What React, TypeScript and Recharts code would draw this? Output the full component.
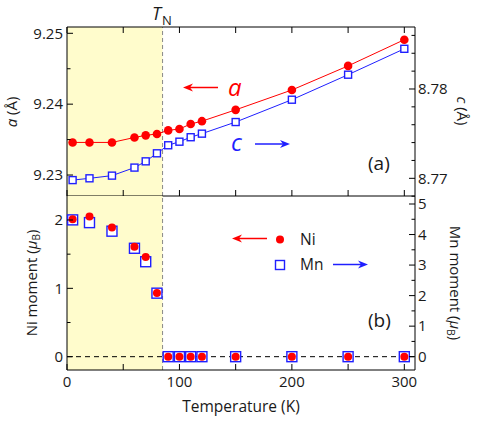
import React from "react";
import {
  ComposedChart,
  Line,
  Scatter,
  XAxis,
  YAxis,
  ReferenceArea,
  ReferenceLine,
} from "recharts";

const temps = [5, 20, 40, 60, 70, 80, 90, 100, 110, 120, 150, 200, 250, 300];
const aLattice = [
  9.2346, 9.2346, 9.2346, 9.2353, 9.2356, 9.2358, 9.2363, 9.2365, 9.2372,
  9.2376, 9.2392, 9.242, 9.2454, 9.2491,
];
const cLattice = [
  8.7698, 8.77, 8.7703, 8.7712, 8.7719, 8.7728, 8.7737, 8.7741, 8.7746, 8.775,
  8.7763, 8.7788, 8.7816, 8.7845,
];
const niMoment = [2.01, 2.05, 1.89, 1.61, 1.46, 0.93, 0, 0, 0, 0, 0, 0, 0, 0];
const mnMoment = [4.48, 4.39, 4.11, 3.55, 3.11, 2.08, 0, 0, 0, 0, 0, 0, 0, 0];
const tN = 85;

const xTicks = [0, 50, 100, 150, 200, 250, 300];
const xLabels = [0, 100, 200, 300];
const aTicks = [9.23, 9.235, 9.24, 9.245, 9.25];
const aLabels = [9.23, 9.24, 9.25];
const cTicks = [8.768, 8.77, 8.772, 8.774, 8.776, 8.778, 8.78, 8.782, 8.784, 8.786];
const cLabels = [8.77, 8.78];
const niTicks = [0, 0.5, 1, 1.5, 2];
const niLabels = [0, 1, 2];
const mnTicks = [0, 0.5, 1, 1.5, 2, 2.5, 3, 3.5, 4, 4.5, 5];
const mnLabels = [0, 1, 2, 3, 4, 5];

const table = temps.map((t, i) => ({
  t,
  a: aLattice[i],
  c: cLattice[i],
  ni: niMoment[i],
  mn: mnMoment[i],
}));

const RED = "#ff0000";
const BLUE = "#1f1fff";
const SHADE = "#fffccc";
const FONT = "'Open Sans', sans-serif";
const W = 479;
const H = 422;

const near = (list: number[], v: number) =>
  list.some((u) => Math.abs(u - v) < 1e-6);

// ticks point into the plot, labels sit outside
function makeTick(
  side: "left" | "right" | "top" | "bottom",
  labels: number[],
  fmt: (v: number) => string,
  majors?: number[]
) {
  return (props: any) => {
    const { x, y, payload } = props;
    const v = payload.value;
    const len = !majors || near(majors, v) ? 6 : 3.5;
    const show = near(labels, v);
    let line;
    let label = null;
    if (side === "left") {
      line = <line x1={x} y1={y} x2={x + len} y2={y} stroke="#000" />;
      if (show)
        label = (
          <text x={x - 4} y={y + 5.3} textAnchor="end">
            {fmt(v)}
          </text>
        );
    } else if (side === "right") {
      line = <line x1={x} y1={y} x2={x - len} y2={y} stroke="#000" />;
      if (show)
        label = (
          <text x={x + 3} y={y + 5.3} textAnchor="start">
            {fmt(v)}
          </text>
        );
    } else if (side === "bottom") {
      line = <line x1={x} y1={y} x2={x} y2={y - len} stroke="#000" />;
      if (show)
        label = (
          <text x={x} y={y + 16.5} textAnchor="middle">
            {fmt(v)}
          </text>
        );
    } else {
      line = <line x1={x} y1={y} x2={x} y2={y + len} stroke="#000" />;
    }
    return (
      <g fontFamily={FONT} fontSize={15} fill="#1a1a1a">
        {line}
        {label}
      </g>
    );
  };
}

const circleDot = (r: number) => (p: any) =>
  <circle key={`c${p.index}`} cx={p.cx} cy={p.cy} r={r} fill={RED} />;

const squareDot = (s: number) => (p: any) =>
  (
    <rect
      key={`s${p.index}`}
      x={p.cx - s / 2}
      y={p.cy - s / 2}
      width={s}
      height={s}
      fill="#fff"
      stroke={BLUE}
      strokeWidth={1.4}
    />
  );

function Arrow({ from, to, y, color }: { from: number; to: number; y: number; color: string }) {
  const dir = to > from ? 1 : -1;
  return (
    <g>
      <line x1={from} y1={y} x2={to - dir * 6} y2={y} stroke={color} strokeWidth={1.5} />
      <polygon
        points={`${to},${y} ${to - dir * 10},${y - 4} ${to - dir * 7},${y} ${to - dir * 10},${y + 4}`}
        fill={color}
      />
    </g>
  );
}

const layer: React.CSSProperties = { position: "absolute", left: 0, top: 0 };

export default function App() {
  return (
    <div style={{ position: "absolute", left: 0, top: 0, width: W, height: H, background: "#fff" }}>
      {/* (a) lattice parameters */}
      <div style={layer}>
        <ComposedChart width={W} height={H} data={table} margin={{ top: 26, right: 0, bottom: 225, left: 0 }}>
          <XAxis
            xAxisId="b"
            dataKey="t"
            type="number"
            domain={[0, 309.5]}
            ticks={xTicks}
            interval={0}
            height={1}
            tickSize={0}
            tickMargin={0}
            tickLine={false}
            stroke="#000"
            tick={makeTick("bottom", [], String)}
          />
          <XAxis
            xAxisId="t"
            orientation="top"
            dataKey="t"
            type="number"
            domain={[0, 309.5]}
            ticks={xTicks}
            interval={0}
            height={1}
            tickSize={0}
            tickMargin={0}
            tickLine={false}
            stroke="#000"
            tick={makeTick("top", [], String)}
          />
          <YAxis
            yAxisId="a"
            orientation="left"
            type="number"
            domain={[9.22704, 9.25089]}
            allowDataOverflow
            ticks={aTicks}
            interval={0}
            width={67}
            tickSize={0}
            tickMargin={0}
            tickLine={false}
            stroke="#000"
            tick={makeTick("left", aLabels, (v) => v.toFixed(2), aLabels)}
          />
          <YAxis
            yAxisId="c"
            orientation="right"
            type="number"
            domain={[8.76802, 8.78694]}
            allowDataOverflow
            ticks={cTicks}
            interval={0}
            width={64}
            tickSize={0}
            tickMargin={0}
            tickLine={false}
            stroke="#000"
            tick={makeTick("right", cLabels, (v) => v.toFixed(2), cLabels)}
          />
          <ReferenceArea xAxisId="b" yAxisId="a" x1={0} x2={tN} fill={SHADE} fillOpacity={1} stroke="none" />
          <ReferenceLine xAxisId="b" yAxisId="a" x={tN} stroke="#888" strokeDasharray="4 3" />
          <Line
            xAxisId="b"
            yAxisId="c"
            dataKey="c"
            type="linear"
            stroke={BLUE}
            strokeWidth={1}
            dot={squareDot(7)}
            isAnimationActive={false}
          />
          <Line
            xAxisId="b"
            yAxisId="a"
            dataKey="a"
            type="linear"
            stroke={RED}
            strokeWidth={1}
            dot={circleDot(4.3)}
            isAnimationActive={false}
          />
        </ComposedChart>
      </div>

      {/* (b) ordered moments */}
      <div style={layer}>
        <ComposedChart width={W} height={H} data={table} margin={{ top: 196, right: 0, bottom: 51, left: 0 }}>
          <XAxis
            xAxisId="b"
            dataKey="t"
            type="number"
            domain={[0, 309.5]}
            ticks={xTicks}
            interval={0}
            height={1}
            tickSize={0}
            tickMargin={0}
            tickLine={false}
            stroke="#000"
            tick={makeTick("bottom", xLabels, String)}
          />
          <YAxis
            yAxisId="ni"
            orientation="left"
            type="number"
            domain={[-0.195, 2.351]}
            allowDataOverflow
            ticks={niTicks}
            interval={0}
            width={67}
            tickSize={0}
            tickMargin={0}
            tickLine={false}
            stroke="#000"
            tick={makeTick("left", niLabels, String, niLabels)}
          />
          <YAxis
            yAxisId="mn"
            orientation="right"
            type="number"
            domain={[-0.436, 5.262]}
            allowDataOverflow
            ticks={mnTicks}
            interval={0}
            width={64}
            tickSize={0}
            tickMargin={0}
            tickLine={false}
            stroke="#000"
            tick={makeTick("right", mnLabels, String, mnLabels)}
          />
          <ReferenceArea xAxisId="b" yAxisId="ni" x1={0} x2={tN} fill={SHADE} fillOpacity={1} stroke="none" />
          <ReferenceLine xAxisId="b" yAxisId="ni" x={tN} stroke="#888" strokeDasharray="4 3" />
          <ReferenceLine xAxisId="b" yAxisId="ni" y={0} stroke="#000" strokeDasharray="5 4" />
          <Scatter
            xAxisId="b"
            yAxisId="mn"
            data={table}
            dataKey="mn"
            shape={squareDot(10)}
            isAnimationActive={false}
          />
          <Scatter
            xAxisId="b"
            yAxisId="ni"
            data={table}
            dataKey="ni"
            shape={circleDot(4)}
            isAnimationActive={false}
          />
        </ComposedChart>
      </div>

      {/* annotations */}
      <svg width={W} height={H} style={{ ...layer, pointerEvents: "none" }} fontFamily={FONT} fill="#1a1a1a">
        <text x={152} y={20} fontSize={18}>
          <tspan fontStyle="italic">T</tspan>
          <tspan fontSize={13} dy={5} dx={1}>N</tspan>
        </text>
        <Arrow from={218} to={183} y={87.5} color={RED} />
        <text x={228} y={96} fontSize={24} fontStyle="italic" fill={RED}>a</text>
        <text x={231} y={151} fontSize={24} fontStyle="italic" fill={BLUE}>c</text>
        <Arrow from={255} to={290} y={144} color={BLUE} />
        <text x={368} y={170} fontSize={19}>(a)</text>
        <text x={368} y={327} fontSize={19}>(b)</text>

        <Arrow from={267} to={232} y={238.5} color={RED} />
        <circle cx={280} cy={239.5} r={4} fill={RED} />
        <text x={300} y={244.5} fontSize={15.5}>Ni</text>
        <rect x={275.5} y={260.5} width={9} height={9} fill="#fff" stroke={BLUE} strokeWidth={1.4} />
        <text x={300} y={270} fontSize={15.5}>Mn</text>
        <Arrow from={333} to={368} y={264.5} color={BLUE} />

        <text x={241} y={411.5} fontSize={15.5} textAnchor="middle">Temperature (K)</text>
        <text transform="translate(17,112) rotate(-90)" fontSize={15} textAnchor="middle">
          <tspan fontStyle="italic">a</tspan> (Å)
        </text>
        <text transform="translate(457,111) rotate(90)" fontSize={15} textAnchor="middle">
          <tspan fontStyle="italic">c</tspan> (Å)
        </text>
        <text transform="translate(37,283) rotate(-90)" fontSize={15} textAnchor="middle">
          Ni moment (<tspan fontStyle="italic">μ</tspan>
          <tspan fontSize={10} dy={3}>B</tspan>
          <tspan dy={-3}>)</tspan>
        </text>
        <text transform="translate(450,283) rotate(90)" fontSize={15} textAnchor="middle">
          Mn moment (<tspan fontStyle="italic">μ</tspan>
          <tspan fontSize={10} dy={3}>B</tspan>
          <tspan dy={-3}>)</tspan>
        </text>
      </svg>
    </div>
  );
}
